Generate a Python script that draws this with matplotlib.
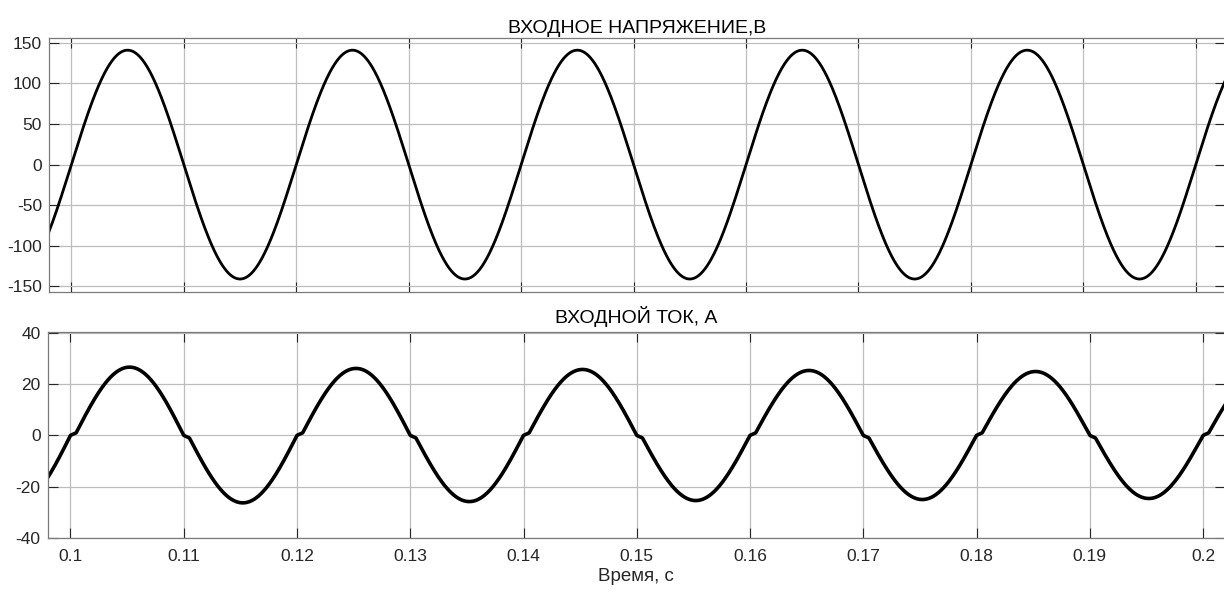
import numpy as np
import matplotlib.pyplot as plt

# ---- values ----
# zero crossings of the voltage / current (start of each half cycle), s
t_zero = [0.09, 0.10, 0.11, 0.12, 0.13, 0.14, 0.15, 0.16, 0.17, 0.18, 0.19, 0.20, 0.21]
# signed peak of each half cycle
u_peaks = [-141, 141, -141, 141, -141, 141, -141, 141, -141, 141, -141, 141]
i_peaks = [-26.3, 26.1, -25.8, 25.6, -25.3, 25.2, -24.9, 24.8, -24.5, 24.4, -24.1, 24.0]
i_pause = 0.0005   # current stays near zero after each crossing, s
i_step = 1.0       # level of the small shelf after the crossing, A

x_ticks = [0.10, 0.11, 0.12, 0.13, 0.14, 0.15, 0.16, 0.17, 0.18, 0.19, 0.20]
x_ticklabels = ["0.1", "0.11", "0.12", "0.13", "0.14", "0.15", "0.16", "0.17", "0.18", "0.19", "0.2"]
u_ticks = [-150, -100, -50, 0, 50, 100, 150]
i_ticks = [-40, -20, 0, 20, 40]

title_u = "ВХОДНОЕ НАПРЯЖЕНИЕ,В"
title_i = "ВХОДНОЙ ТОК, А"
xlabel = "Время, с"

# ---- build the waveforms half cycle by half cycle ----
t_all, u_all, i_all = [], [], []
for k in range(len(u_peaks)):
    t0, t1 = t_zero[k], t_zero[k + 1]
    t = np.linspace(t0, t1, 400, endpoint=False)
    u = u_peaks[k] * np.sin(np.pi * (t - t0) / (t1 - t0))
    s = np.sign(i_peaks[k])
    a = abs(i_peaks[k])
    i = np.empty_like(t)
    m = t < t0 + i_pause
    i[m] = s * i_step * (t[m] - t0) / i_pause
    w = (t[~m] - t0 - i_pause) / (t1 - t0 - i_pause)
    i[~m] = s * (i_step * (1 - w) + a * np.sin(np.pi * w))
    t_all.append(t); u_all.append(u); i_all.append(i)
t_all = np.concatenate(t_all)
u_all = np.concatenate(u_all)
i_all = np.concatenate(i_all)

plt.rcParams['font.family'] = ['Liberation Sans', 'DejaVu Sans']
plt.rcParams['axes.unicode_minus'] = False
axcol = '#262626'

fig = plt.figure(figsize=(12.24, 5.93), dpi=100)
W, H = 1224.0, 593.0
ax1 = fig.add_axes([49 / W, (H - 292) / H, (1225 - 49) / W, 254 / H])
ax2 = fig.add_axes([47.5 / W, (H - 538) / H, (1225 - 47.5) / W, 206 / H])

for ax in (ax1, ax2):
    ax.set_xticks(x_ticks)
    ax.grid(True, color='#bdbdbd', linewidth=0.9)
    ax.set_axisbelow(True)
    ax.tick_params(direction='in', length=7, width=0.8, colors=axcol,
                   labelsize=12.5, top=True, right=True)
    ax.tick_params(axis='y', pad=5)
    ax.tick_params(axis='x', pad=8)
    for sp in ax.spines.values():
        sp.set_color('#7a7a7a')
        sp.set_linewidth(0.9)

ax1.plot(t_all, u_all, color='black', linewidth=2.0)
ax1.set_xlim(0.09801, 0.2026)
ax1.set_ylim(-157, 156)
ax1.set_yticks(u_ticks)
ax1.set_xticklabels([])
ax1.set_title(title_u, fontsize=14, color='black', pad=3.5)

ax2.plot(t_all, i_all, color='black', linewidth=2.6)
ax2.set_xlim(0.09797, 0.20194)
ax2.set_ylim(-40, 40.3)
ax2.set_yticks(i_ticks)
ax2.set_xticklabels(x_ticklabels)
ax2.set_title(title_i, fontsize=14, color='black', pad=6.5)
ax2.set_xlabel(xlabel, fontsize=13.5, color=axcol, labelpad=3)

fig.savefig("out.png", dpi=100)
